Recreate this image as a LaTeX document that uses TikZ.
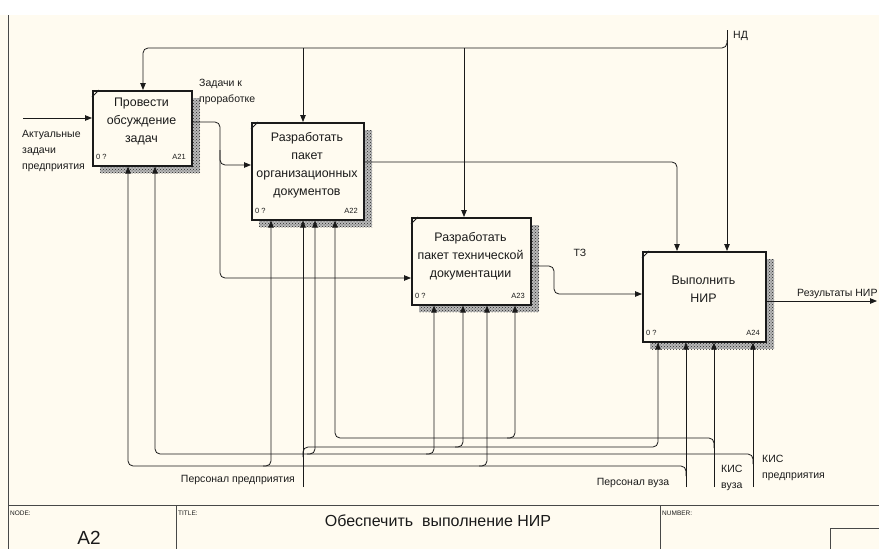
\documentclass[tikz,border=0pt]{standalone}
\usepackage{fontspec}
\setmainfont{Liberation Sans}
\usetikzlibrary{arrows.meta,patterns}
\definecolor{paper}{HTML}{FFFBF0}
\definecolor{ink}{HTML}{1A1A1A}
\begin{document}
\begin{tikzpicture}[x=1pt,y=-1pt,
  flow/.style={draw=ink, line width=0.8pt, rounded corners=5pt},
  arr/.style={flow, -{Triangle[length=7pt,width=5.5pt]}},
  actbox/.style={draw=ink, line width=1.6pt, fill=paper, anchor=north west, inner sep=0pt},
  boxtext/.style={align=center, inner sep=0pt, text=ink, font=\fontsize{12.4}{18}\selectfont},
  lbl/.style={inner sep=0pt, text=ink, font=\fontsize{10.5}{16}\selectfont},
  tag/.style={inner sep=0pt, text=ink, font=\fontsize{7.5}{9}\selectfont},
  frametag/.style={inner sep=0pt, anchor=west, text=ink, font=\fontsize{6.5}{8}\selectfont},
  frameline/.style={draw=ink!80, line width=0.8pt}]

% sheet
\useasboundingbox (0,0) rectangle (879,549);
\fill[white] (0,0) rectangle (879,15);
\fill[paper] (0,15) rectangle (879,549);
\draw[frameline] (8,15) -- (8,549);

% drop shadows
\fill[gray!55] (100,98) rectangle (200,173);
\fill[gray!55] (259,130) rectangle (372,227);
\fill[gray!55] (419,225) rectangle (539,312);
\fill[gray!55] (650,259) rectangle (774,349);
\fill[pattern=crosshatch dots, pattern color=gray!30!black] (100,98) rectangle (200,173);
\fill[pattern=crosshatch dots, pattern color=gray!30!black] (259,130) rectangle (372,227);
\fill[pattern=crosshatch dots, pattern color=gray!30!black] (419,225) rectangle (539,312);
\fill[pattern=crosshatch dots, pattern color=gray!30!black] (650,259) rectangle (774,349);

% activity boxes
\node[actbox, minimum width=99pt, minimum height=75pt] (a21) at (92,90) {};
\node[actbox, minimum width=112pt, minimum height=97pt] (a22) at (251,122) {};
\node[actbox, minimum width=119pt, minimum height=87pt] (a23) at (411,217) {};
\node[actbox, minimum width=123pt, minimum height=90pt] (a24) at (642,251) {};

\foreach \b in {a21,a22,a23,a24}{
  \draw[ink, line width=0.8pt] ([yshift=-7pt]\b.north west) -- ([xshift=7pt]\b.north west);
}

\node[boxtext] (t21) at (141.5,121.5) {Провести\\обсуждение\\задач};
\node[boxtext] (t22) at (307,165.5) {Разработать\\пакет\\организационных\\документов};
\node[boxtext] (t23) at (470.5,256) {Разработать\\пакет технической\\документации};
\node[boxtext] (t24) at (703.5,289.5) {Выполнить\\НИР};

\node[tag, anchor=west] (n21) at (96,157) {0 ?};
\node[tag, anchor=east] (c21) at (186,157) {A21};
\node[tag, anchor=west] (n22) at (255,211) {0 ?};
\node[tag, anchor=east] (c22) at (358,211) {A22};
\node[tag, anchor=west] (n23) at (415,296) {0 ?};
\node[tag, anchor=east] (c23) at (525,296) {A23};
\node[tag, anchor=west] (n24) at (646,333) {0 ?};
\node[tag, anchor=east] (c24) at (760,333) {A24};

% input
\coordinate (inAkt) at (23,118);
\draw[arr] (inAkt) -- (a21.west |- inAkt);

% outputs between activities
\draw[arr] (a21.east |- 0,122) -- (220,122) -- (220,278) -- (a23.west |- 0,278);
\draw[arr] (220,150) -- (220,165) -- (a22.west |- 0,165);
\draw[arr] (a22.east |- 0,162) -- (677,162) -- (677,0 |- a24.north);
\draw[arr] (a23.east |- 0,266) -- (554,266) -- (554,294) -- (a24.west |- 0,294);
\coordinate (outRes) at (877,301);
\draw[arr] (a24.east |- outRes) -- (outRes);

% control ND
\coordinate (ctlND) at (727,30);
\draw[arr] (ctlND) -- (ctlND |- a24.north);
\draw[arr] (727,40) -- (727,48) -- (143,48) -- (143,0 |- a21.north);
\draw[arr] (303,48) -- (303,0 |- a22.north);
\draw[arr] (464,48) -- (464,0 |- a23.north);

% mechanism: enterprise staff
\coordinate (mPP) at (303,487);
\draw[arr] (mPP) -- (mPP |- a22.south);
\draw[arr] (303,457) -- (303,447) -- (658,447) -- (658,0 |- a24.south);
\draw[arr] (455,447) -- (463,447) -- (463,0 |- a23.south);

% mechanism: university staff
\coordinate (mPV) at (686,487);
\draw[arr] (mPV) -- (mPV |- a24.south);
\draw[arr] (686,476) -- (686,466) -- (128,466) -- (128,0 |- a21.south);
\draw[arr] (263,466) -- (271,466) -- (271,0 |- a22.south);
\draw[arr] (479,466) -- (487,466) -- (487,0 |- a23.south);

% mechanism: university IS
\coordinate (mKV) at (714,487);
\draw[arr] (mKV) -- (mKV |- a24.south);
\draw[arr] (714,448) -- (714,438) -- (335,438) -- (335,0 |- a22.south);
\draw[arr] (507,438) -- (515,438) -- (515,0 |- a23.south);

% mechanism: enterprise IS
\coordinate (mKP) at (753,487);
\draw[arr] (mKP) -- (mKP |- a24.south);
\draw[arr] (753,464) -- (753,454) -- (155,454) -- (155,0 |- a21.south);
\draw[arr] (307,454) -- (315,454) -- (315,0 |- a22.south);
\draw[arr] (426,454) -- (434,454) -- (434,0 |- a23.south);

% arrow labels
\node[lbl, anchor=west, align=left] (lZad) at (199,92) {Задачи к\\проработке};
\node[lbl, anchor=west, align=left] (lAkt) at (22,151) {Актуальные\\задачи\\предприятия};
\node[lbl, anchor=west] (lND) at (733,36) {НД};
\node[lbl] (lTZ) at (580,253) {ТЗ};
\node[lbl, anchor=west] (lRes) at (797,294) {Результаты НИР};
\node[lbl, anchor=east] (lPP) at (295,480) {Персонал предприятия};
\node[lbl] (lPV) at (633,483) {Персонал вуза};
\node[lbl, anchor=west, align=left] (lKV) at (721,478) {КИС\\вуза};
\node[lbl, anchor=west, align=left] (lKP) at (762,467.5) {КИС\\предприятия};

% title block
\draw[frameline] (8,505) -- (879,505);
\draw[frameline] (176,505) -- (176,549);
\draw[frameline] (660,505) -- (660,549);
\draw[frameline] (830,549) -- (830,528) -- (879,528);
\node[frametag] (fNode) at (10,513) {NODE:};
\node[frametag] (fTitle) at (178,513) {TITLE:};
\node[frametag] (fNum) at (662,513) {NUMBER:};
\node[inner sep=0pt, text=ink, font=\fontsize{16}{18}\selectfont] (fName) at (438,521) {Обеспечить\ \ выполнение НИР};
\node[inner sep=0pt, anchor=south, text=ink, font=\fontsize{19}{21}\selectfont] (fCode) at (89,545) {A2};
\end{tikzpicture}
\end{document}
